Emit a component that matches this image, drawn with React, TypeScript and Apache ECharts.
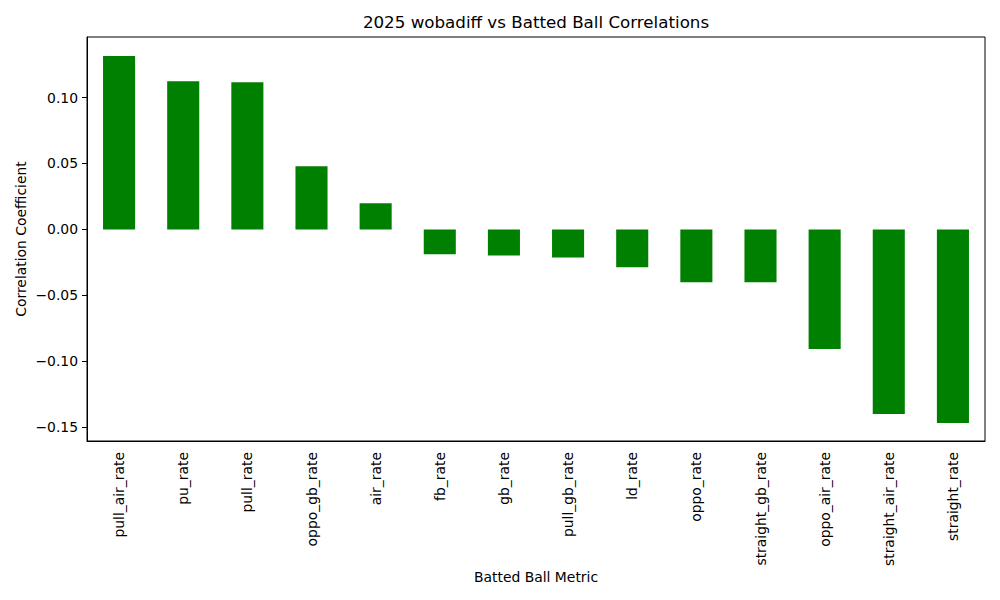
import React, { useEffect, useRef } from "react";
import * as echarts from "echarts";

const categories = [
  "pull_air_rate", "pu_rate", "pull_rate", "oppo_gb_rate", "air_rate", "fb_rate", "gb_rate",
  "pull_gb_rate", "ld_rate", "oppo_rate", "straight_gb_rate", "oppo_air_rate", "straight_air_rate", "straight_rate",
];
const values = [
  0.1315, 0.1123, 0.1116, 0.0479, 0.0199, -0.0189, -0.0197,
  -0.0212, -0.0286, -0.0400, -0.0400, -0.0907, -0.1399, -0.1467,
];
const yTicks = [-0.15, -0.1, -0.05, 0, 0.05, 0.1];
const yMin = -0.1604;
const yMax = 0.1459;

const FONT = "DejaVu Sans";

export default function App() {
  const ref = useRef<HTMLDivElement>(null);
  useEffect(() => {
    const chart = echarts.init(ref.current!, null, { renderer: "svg" });
    chart.setOption({
      animation: false,
      backgroundColor: "#ffffff",
      grid: { left: 87, right: 15, top: 37, bottom: 159, show: true, borderColor: "#000", borderWidth: 1, backgroundColor: "transparent" },
      xAxis: {
        type: "category",
        data: categories,
        axisLine: { onZero: false, lineStyle: { color: "#000", width: 1 } },
        axisTick: { alignWithLabel: true, length: 5, lineStyle: { color: "#000" } },
        axisLabel: { rotate: 90, interval: 0, margin: 11, color: "#000", fontFamily: FONT, fontSize: 13.9 },
        splitLine: { show: false },
      },
      yAxis: {
        type: "value",
        min: yMin,
        max: yMax,
        axisLine: { show: true, lineStyle: { color: "#000", width: 1 } },
        axisTick: { show: true, length: 5, lineStyle: { color: "#000" }, customValues: yTicks },
        axisLabel: {
          color: "#000", fontFamily: FONT, fontSize: 13.9, margin: 9,
          customValues: yTicks,
          formatter: (v: number) => (Math.abs(v) < 1e-9 ? "0.00" : v.toFixed(2).replace("-", "\u2212")),
        },
        splitLine: { show: false },
      },
      series: [
        {
          type: "bar",
          data: values,
          barWidth: "50%",
          itemStyle: { color: "#008000" },
        },
      ],
      graphic: [
        { type: "text", x: 536, y: 22, style: { text: "2025 wobadiff vs Batted Ball Correlations", fontFamily: FONT, fontSize: 16.7, fill: "#000", textAlign: "center", textVerticalAlign: "middle" } },
        { type: "text", x: 536, y: 577, style: { text: "Batted Ball Metric", fontFamily: FONT, fontSize: 13.9, fill: "#000", textAlign: "center", textVerticalAlign: "middle" } },
        { type: "text", x: 21, y: 239, rotation: Math.PI / 2, style: { text: "Correlation Coefficient", fontFamily: FONT, fontSize: 13.9, fill: "#000", textAlign: "center", textVerticalAlign: "middle" } },
      ],
    });
    return () => chart.dispose();
  }, []);
  return <div ref={ref} style={{ position: "fixed", left: 0, top: 0, width: 1000, height: 600 }} />;
}
